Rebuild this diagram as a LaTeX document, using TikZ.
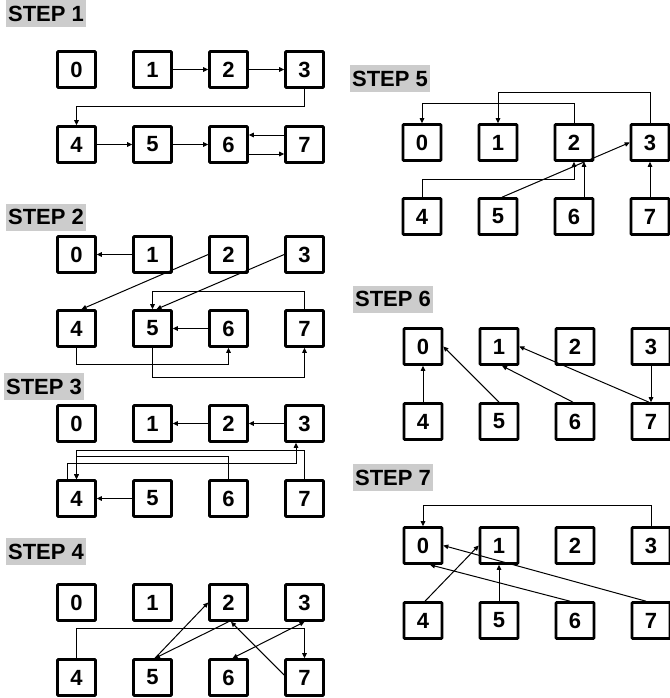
\documentclass[tikz,border=0pt]{standalone}
\usepackage{fontspec}
\setmainfont{Liberation Sans}
\usetikzlibrary{arrows.meta}
\definecolor{lblgray}{RGB}{204,204,204}
\newcommand\mkstep[4]{%
  \foreach \i in {0,...,3}{\node[box] (#1n\i) at ({#2+76*\i},#3) {\i};}
  \foreach \i [evaluate=\i as \j using int(\i+4)] in {0,...,3}{\node[box] (#1n\j) at ({#2+76*\i},#4) {\j};}
}
\begin{document}
\begin{tikzpicture}[x=1pt,y=-1pt,
  box/.style={draw,line width=2.6pt,minimum width=38pt,minimum height=36pt,inner sep=0pt,
    font=\fontsize{22}{24}\selectfont\bfseries,rounded corners=0.8pt},
  lbl/.style={fill=lblgray,minimum width=80pt,minimum height=27pt,inner sep=0pt,
    font=\fontsize{22}{24}\selectfont\bfseries},
  arr/.style={line width=1pt,-{Triangle[length=5pt,width=4.5pt]}},
  dbl/.style={line width=1pt,{Triangle[length=5pt,width=4.5pt]}-{Triangle[length=5pt,width=4.5pt]}},
]
\useasboundingbox (0,0) rectangle (669,698);

% labels
\node[lbl] (l1) at (46,13.5) {STEP 1};
\node[lbl] (l2) at (46,217) {STEP 2};
\node[lbl] (l3) at (44,386.5) {STEP 3};
\node[lbl] (l4) at (46,551.5) {STEP 4};
\node[lbl] (l5) at (390,78.5) {STEP 5};
\node[lbl] (l6) at (393,299) {STEP 6};
\node[lbl] (l7) at (393,477.5) {STEP 7};

% boxes
\mkstep{s1}{76.5}{69.5}{144.5}
\mkstep{s2}{76.5}{254.5}{328.5}
\mkstep{s3}{76.5}{423.5}{498.5}
\mkstep{s4}{76.5}{602.5}{677.5}
\mkstep{s5}{422}{142.5}{216.5}
\mkstep{s6}{423}{346.5}{421.5}
\mkstep{s7}{423}{545.5}{620.5}

% STEP 1
\draw[arr] (s1n1.east) -- (s1n2.west);
\draw[arr] (s1n2.east) -- (s1n3.west);
\draw[arr] (s1n3.south) -- ++(0,18) -| (s1n4.north);
\draw[arr] (s1n4.east) -- (s1n5.west);
\draw[arr] (s1n5.east) -- (s1n6.west);
\draw[arr] ([yshift=9.5pt]s1n7.west) -- ([yshift=9.5pt]s1n6.east);
\draw[arr] ([yshift=-9.5pt]s1n6.east) -- ([yshift=-9.5pt]s1n7.west);

% STEP 2
\draw[arr] (s2n1.west) -- (s2n0.east);
\draw[arr] (s2n2.west) -- ([xshift=5pt]s2n4.north);
\draw[arr] (s2n3.west) -- ([xshift=4pt]s2n5.north);
\draw[arr] (s2n7.north) -- ++(0,-18) -| (s2n5.north);
\draw[arr] (s2n6.west) -- (s2n5.east);
\draw[arr] (s2n4.south) -- ++(0,17) -| (s2n6.south);
\draw[arr] (s2n5.south) -- ++(0,30) -| (s2n7.south);

% STEP 3
\draw[arr] (s3n2.west) -- (s3n1.east);
\draw[arr] (s3n3.west) -- (s3n2.east);
\draw[arr] (s3n5.west) -- (s3n4.east);
\draw[arr] (s3n7.north) -- ++(0,-29) -| (s3n4.north);
\draw[arr] (s3n6.north) -- ++(0,-23) -| (s3n4.north);
\draw[arr] ([xshift=-9.5pt]s3n4.north) -- ++(0,-16) -| ([xshift=-8.5pt]s3n3.south);

% STEP 4
\draw[arr] (s4n4.north) -- ++(0,-30) -| (s4n7.north);
\draw[arr] ([xshift=2.5pt]s4n5.north) -- (s4n2.west);
\draw[arr] (s4n2.south) -- ([xshift=2.5pt]s4n5.north);
\draw[dbl] (s4n3.south) -- ([xshift=4pt]s4n6.north);
\draw[arr] ([yshift=2.5pt]s4n7.west) -- ([xshift=2.5pt]s4n2.south);

% STEP 5
\draw[arr] (s5n2.north) -- ++(0,-20) -| (s5n0.north);
\draw[arr] (s5n3.north) -- ++(0,-31) -| (s5n1.north);
\draw[arr] (s5n4.north) -- ++(0,-18) -| (s5n2.south);
\draw[arr] ([xshift=10pt]s5n6.north) -- ([xshift=10pt]s5n2.south);
\draw[arr] ([xshift=4pt]s5n5.north) -- (s5n3.west);
\draw[arr] (s5n7.north) -- (s5n3.south);

% STEP 6
\draw[arr] (s6n4.north) -- (s6n0.south);
\draw[arr] (s6n5.north) -- (s6n0.east);
\draw[arr] ([xshift=-2pt]s6n6.north) -- ([xshift=3pt]s6n1.south);
\draw[arr] ([xshift=-2pt]s6n7.north) -- (s6n1.east);
\draw[arr] (s6n3.south) -- (s6n7.north);

% STEP 7
\draw[arr] (s7n3.north) -- ++(0,-21) -| (s7n0.north);
\draw[arr] ([xshift=2pt]s7n4.north) -- (s7n1.west);
\draw[arr] (s7n5.north) -- (s7n1.south);
\draw[arr] ([xshift=-5pt]s7n6.north) -- ([xshift=7pt]s7n0.south);
\draw[arr] ([xshift=-5pt]s7n7.north) -- (s7n0.east);
\end{tikzpicture}
\end{document}
